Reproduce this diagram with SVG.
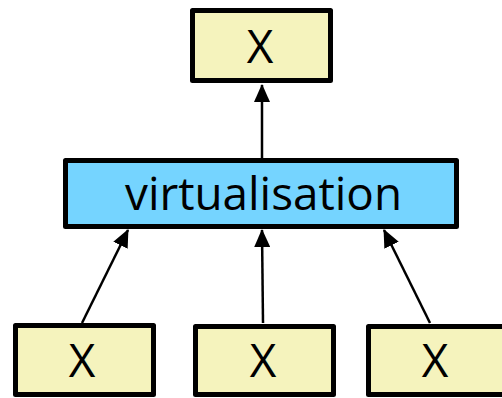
<svg xmlns="http://www.w3.org/2000/svg" width="502" height="398" viewBox="0 0 502 398">
  <style>
    .box { stroke: #000; stroke-width: 5; stroke-linejoin: round; }
    .leaf { fill: #F5F3BD; }
    .hub { fill: #75D4FF; }
    .lbl { font-family: "Open Sans", "Liberation Sans", sans-serif; font-size: 46px; fill: #000; text-anchor: middle; }
    .edge { stroke: #000; stroke-width: 2.5; fill: none; marker-end: url(#arrow); }
  </style>
  <defs>
    <marker id="arrow" viewBox="0 0 18 16" refX="17" refY="8" markerWidth="18" markerHeight="16" markerUnits="userSpaceOnUse" orient="auto">
      <path d="M0,0 L18,8 L0,16 Z" fill="#000"/>
    </marker>
  </defs>
  <rect width="502" height="398" fill="#fff"/>

  <g id="connectors">
    <line class="edge" x1="262" y1="158" x2="262" y2="85"/>
    <line class="edge" x1="82" y1="323" x2="128" y2="230"/>
    <line class="edge" x1="263" y1="323" x2="262" y2="230"/>
    <line class="edge" x1="430" y1="323" x2="384" y2="230"/>
  </g>

  <g id="top">
    <rect class="box leaf" x="192.5" y="10.5" width="138" height="70"/>
    <text class="lbl" x="260" y="63">X</text>
  </g>

  <g id="virtualisation">
    <rect class="box hub" x="65.5" y="160.5" width="391" height="66"/>
    <text class="lbl" x="263.5" y="210" font-size="47" textLength="277" lengthAdjust="spacingAndGlyphs">virtualisation</text>
  </g>

  <g id="leaf-1">
    <rect class="box leaf" x="15.5" y="325.5" width="138" height="69"/>
    <text class="lbl" x="82" y="377">X</text>
  </g>

  <g id="leaf-2">
    <rect class="box leaf" x="195.5" y="326.5" width="138" height="68"/>
    <text class="lbl" x="263" y="377">X</text>
  </g>

  <g id="leaf-3">
    <rect class="box leaf" x="368.5" y="326.5" width="150" height="68"/>
    <text class="lbl" x="435" y="377">X</text>
  </g>
</svg>
